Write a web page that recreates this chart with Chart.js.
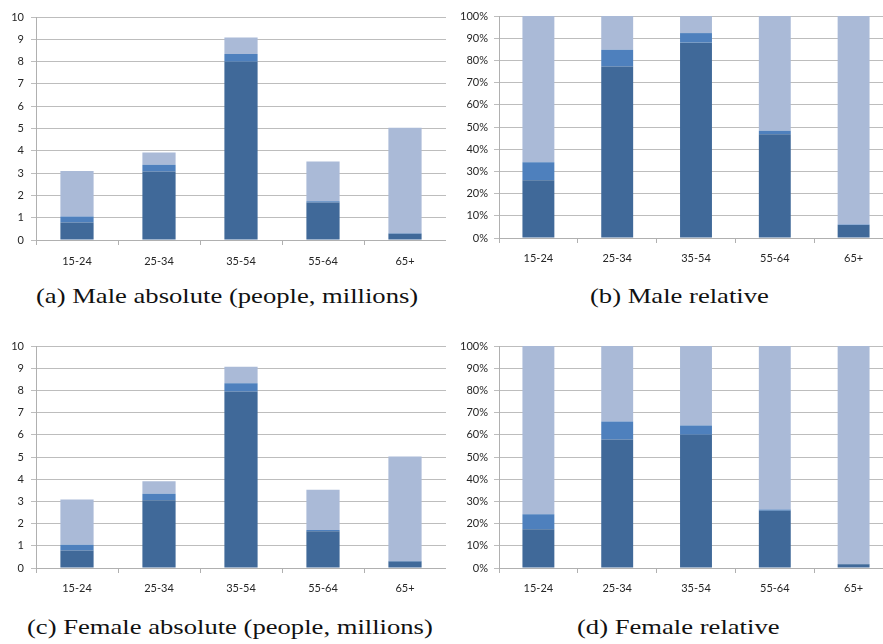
<!DOCTYPE html>
<html>
<head>
<meta charset="utf-8">
<script src="https://cdn.jsdelivr.net/npm/chart.js@4"></script>
<style>
  html, body { margin: 0; padding: 0; background: #fff; overflow: hidden; width: 883px; height: 644px; }
  canvas { position: absolute; }
  .caption {
    position: absolute;
    font-family: "Liberation Serif", serif;
    font-size: 22px;
    line-height: 22px;
    color: #111;
    white-space: nowrap;
    transform: scaleX(1.21);
    transform-origin: left top;
  }
</style>
</head>
<body>
<canvas id="chartA" width="446" height="275" style="left:0px;top:0px"></canvas>
<canvas id="chartB" width="448" height="275" style="left:445px;top:0px"></canvas>
<canvas id="chartC" width="446" height="275" style="left:0px;top:330px"></canvas>
<canvas id="chartD" width="448" height="275" style="left:445px;top:330px"></canvas>

<div class="caption" style="left:36px;top:285px">(a) Male absolute (people, millions)</div>
<div class="caption" style="left:590px;top:285px">(b) Male relative</div>
<div class="caption" style="left:27px;top:616px">(c) Female absolute (people, millions)</div>
<div class="caption" style="left:577px;top:616px">(d) Female relative</div>

<script>
// age groups on the x axis
const ageGroups = ['15-24', '25-34', '35-54', '55-64', '65+'];

// (a) male, millions - stacked segments, bottom to top
const maleAbsDark  = [0.78, 3.07, 7.99, 1.68, 0.28];
const maleAbsMid   = [0.27, 0.30, 0.35, 0.06, 0.02];
const maleAbsLight = [2.04, 0.55, 0.74, 1.78, 4.73];

// (b) male, percent
const maleRelDark  = [26.0, 77.2, 88.0, 46.7, 5.9];
const maleRelMid   = [8.1, 7.6, 4.3, 1.6, 0.2];
const maleRelLight = [65.9, 15.2, 7.7, 51.7, 93.9];

// (c) female, millions
const femaleAbsDark  = [0.79, 3.05, 7.95, 1.65, 0.29];
const femaleAbsMid   = [0.26, 0.30, 0.37, 0.06, 0.02];
const femaleAbsLight = [2.03, 0.56, 0.74, 1.81, 4.71];

// (d) female, percent
const femaleRelDark  = [17.4, 57.9, 60.0, 25.8, 1.7];
const femaleRelMid   = [6.8, 8.1, 4.2, 0.6, 0.1];
const femaleRelLight = [75.8, 34.0, 35.8, 73.6, 98.2];

const absTicks = { min: 0, max: 10, step: 1 };
const relTicks = { min: 0, max: 100, step: 10 };

const colDark = '#406999';
const colMid = '#4E80BD';
const colLight = '#AABAD7';
const gridCol = '#bdbdbd';
const axisCol = '#b0b0b0';

Chart.defaults.font.family = 'Lato';
Chart.defaults.font.size = 11;
Chart.defaults.color = '#262626';

function initChart(canvasId, dark, mid, light, range, isPercent, lay) {
    const ctx = document.getElementById(canvasId).getContext('2d');
    const ds = (label, data, color) => ({
        label: label,
        data: data,
        backgroundColor: color,
        borderWidth: 0,
        barPercentage: 0.405,
        categoryPercentage: 1.0
    });
    return new Chart(ctx, {
        type: 'bar',
        data: {
            labels: ageGroups,
            datasets: [
                ds('dark', dark, colDark),
                ds('mid', mid, colMid),
                ds('light', light, colLight)
            ]
        },
        options: {
            responsive: false,
            animation: false,
            devicePixelRatio: 1,
            layout: { padding: { top: lay.top, left: 0, right: 0, bottom: 0 } },
            plugins: { legend: { display: false }, tooltip: { enabled: false } },
            scales: {
                x: {
                    stacked: true,
                    grid: { display: true, drawOnChartArea: false, drawTicks: true, tickLength: 5, color: axisCol, offset: true },
                    border: { display: true, color: axisCol },
                    ticks: { padding: lay.xPad },
                    afterFit: s => { s.height = lay.xHeight; }
                },
                y: {
                    stacked: true,
                    min: range.min,
                    max: range.max,
                    grid: { color: gridCol, tickLength: 5, drawTicks: true },
                    border: { display: true, color: axisCol },
                    ticks: {
                        stepSize: range.step,
                        padding: lay.yPad,
                        callback: v => isPercent ? v + '%' : v
                    },
                    afterFit: s => { s.width = lay.yWidth; }
                }
            }
        }
    });
}

let chartA = initChart('chartA', maleAbsDark, maleAbsMid, maleAbsLight, absTicks, false,
    { top: 17, xHeight: 35, xPad: 10, yPad: 7, yWidth: 36 });
let chartB = initChart('chartB', maleRelDark, maleRelMid, maleRelLight, relTicks, true,
    { top: 16, xHeight: 37, xPad: 9, yPad: 6, yWidth: 54 });
let chartC = initChart('chartC', femaleAbsDark, femaleAbsMid, femaleAbsLight, absTicks, false,
    { top: 16, xHeight: 37, xPad: 9, yPad: 7, yWidth: 36 });
let chartD = initChart('chartD', femaleRelDark, femaleRelMid, femaleRelLight, relTicks, true,
    { top: 16, xHeight: 37, xPad: 9, yPad: 6, yWidth: 54 });
</script>
</body>
</html>
